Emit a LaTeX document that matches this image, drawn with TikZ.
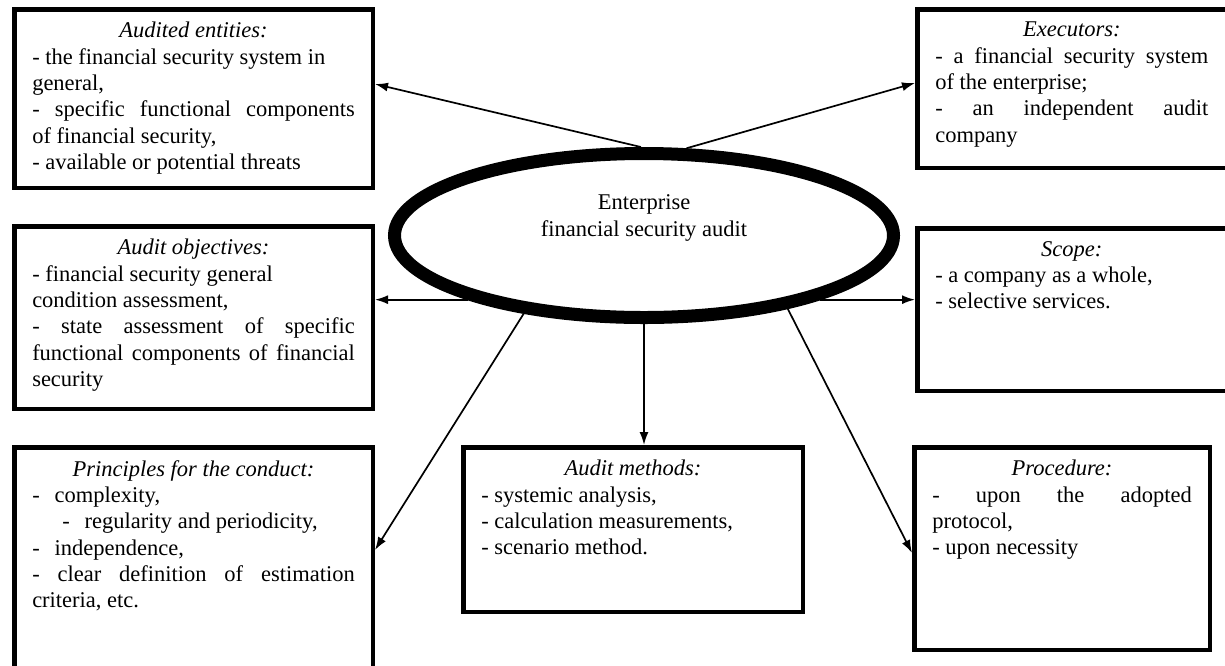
\documentclass[tikz,border=0pt]{standalone}
\usepackage{fontspec}
\setmainfont{Liberation Serif}
\usetikzlibrary{shapes.geometric,arrows.meta}

\newcommand{\boxtext}[4]{%
  \begin{minipage}[t][#2][t]{#1}
    {\centering\itshape #3\par}
    #4
  \end{minipage}}
\newcommand{\sline}[1]{\makebox[\linewidth][s]{#1}}

\begin{document}
\begin{tikzpicture}[x=1pt,y=-1pt,
    font=\fontsize{22.5}{26.3}\selectfont,
    auditbox/.style={draw, line width=4.5pt, inner xsep=18pt, inner ysep=13pt, anchor=north west},
    arr/.style={line width=1.7pt, -{Latex[length=13pt,width=9pt]}}]
    \useasboundingbox (0,0) rectangle (1225,665);

    % Centre
    \node[draw, ellipse, line width=13pt, minimum width=499pt, minimum height=164pt, inner sep=0pt] (aud) at (644,235.5) {};
    \node[align=center] (audtxt) at (644,218) {Enterprise\\financial security audit};

    % Left column
    \node[auditbox] (ent) at (12,7) {\boxtext{322.5pt}{152.5pt}{Audited entities:}{%
        - the financial security system in\\
        general,\\
        \sline{- specific functional components}\\
        of financial security,\\
        - available or potential threats}};
    \node[auditbox] (obj) at (12,224) {\boxtext{322.5pt}{156.5pt}{Audit objectives:}{%
        - financial security general\\
        condition assessment,\\
        \sline{- state assessment of specific}\\
        \sline{functional components of financial}\\
        security}};
    \node[auditbox] (pri) at (12,445) {\boxtext{322.5pt}{209.5pt}{Principles for the conduct:}{%
        -\hspace{15pt}complexity,\\
        \hspace*{30pt}-\hspace{15pt}regularity and periodicity,\\
        -\hspace{15pt}independence,\\
        \sline{- clear definition of estimation}\\
        criteria, etc.}};

    % Middle
    \node[auditbox] (met) at (461,445) {\boxtext{303.5pt}{138.5pt}{Audit methods:}{%
        - systemic analysis,\\
        - calculation measurements,\\
        - scenario method.}};

    % Right column
    \node[auditbox] (exe) at (915,7) {\boxtext{273pt}{132.5pt}{Executors:}{%
        \sline{- a financial security system}\\
        of the enterprise;\\
        \sline{- an independent audit}\\
        company}\hspace*{60pt}};
    \node[auditbox] (scp) at (915,226) {\boxtext{273pt}{136.5pt}{Scope:}{%
        - a company as a whole,\\
        - selective services.}\hspace*{60pt}};
    \node[auditbox] (pro) at (912,445) {\boxtext{259.5pt}{176.5pt}{Procedure:}{%
        \sline{- upon the adopted}\\
        protocol,\\
        - upon necessity}};

    % Arrows
    \draw[arr] (aud.92) -- ([yshift=14.5pt]ent.east);
    \draw[arr] (aud.64) -- ([yshift=5.5pt]exe.west);
    \draw[arr] (aud.200) -- (aud.200 -| obj.east);
    \draw[arr] (aud.-20) -- (aud.-20 -| scp.west);
    \draw[arr] (aud.213) -- ([yshift=15pt]pri.east);
    \draw[arr] (aud.south) -- (aud.south |- met.north);
    \draw[arr] (aud.-27) -- ([yshift=-4.5pt]pro.west);
\end{tikzpicture}
\end{document}
